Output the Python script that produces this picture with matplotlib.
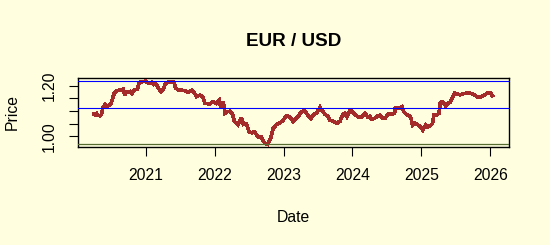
import matplotlib
matplotlib.use("Agg")
import matplotlib.pyplot as plt

plt.rcParams['font.family'] = ['Liberation Sans', 'DejaVu Sans']

# ---- data (decimal years, EUR/USD price) ----
dates = [2020.25, 2020.27, 2020.29, 2020.31, 2020.34, 2020.36, 2020.38, 2020.41, 2020.44, 2020.47,
         2020.50, 2020.53, 2020.545, 2020.58, 2020.62, 2020.675, 2020.70, 2020.72, 2020.77, 2020.80,
         2020.835, 2020.88, 2020.91, 2020.965, 2021.00, 2021.04, 2021.09, 2021.12, 2021.15, 2021.18,
         2021.22, 2021.25, 2021.28, 2021.32, 2021.37, 2021.415, 2021.435, 2021.47, 2021.52, 2021.57,
         2021.62, 2021.67, 2021.71, 2021.74, 2021.79, 2021.835, 2021.86, 2021.93, 2021.98, 2022.03,
         2022.07, 2022.09, 2022.12, 2022.14, 2022.15, 2022.18, 2022.22, 2022.26, 2022.29, 2022.34,
         2022.39, 2022.42, 2022.46, 2022.50, 2022.54, 2022.58, 2022.63, 2022.68, 2022.70, 2022.73,
         2022.77, 2022.80, 2022.82, 2022.85, 2022.90, 2022.95, 2022.995, 2023.04, 2023.09, 2023.14,
         2023.16, 2023.21, 2023.26, 2023.31, 2023.35, 2023.40, 2023.44, 2023.48, 2023.53, 2023.55,
         2023.60, 2023.65, 2023.67, 2023.72, 2023.77, 2023.82, 2023.86, 2023.89, 2023.92, 2023.96,
         2023.98, 2024.03, 2024.08, 2024.13, 2024.18, 2024.22, 2024.25, 2024.28, 2024.32, 2024.37,
         2024.40, 2024.44, 2024.47, 2024.52, 2024.57, 2024.61, 2024.62, 2024.685, 2024.72, 2024.745,
         2024.78, 2024.83, 2024.85, 2024.87, 2024.90, 2024.95, 2024.98, 2025.02, 2025.06, 2025.09,
         2025.14, 2025.16, 2025.18, 2025.22, 2025.255, 2025.275, 2025.31, 2025.35, 2025.385, 2025.42,
         2025.445, 2025.48, 2025.52, 2025.555, 2025.60, 2025.64, 2025.70, 2025.73, 2025.77, 2025.82,
         2025.87, 2025.92, 2025.965, 2026.00, 2026.03]
prices = [1.088, 1.084, 1.090, 1.082, 1.081, 1.086, 1.111, 1.126, 1.117, 1.122,
          1.130, 1.157, 1.170, 1.180, 1.182, 1.186, 1.163, 1.174, 1.177, 1.168,
          1.182, 1.186, 1.213, 1.216, 1.218, 1.209, 1.213, 1.204, 1.207, 1.192,
          1.176, 1.182, 1.203, 1.213, 1.216, 1.213, 1.190, 1.184, 1.182, 1.180,
          1.174, 1.182, 1.170, 1.157, 1.163, 1.153, 1.130, 1.128, 1.137, 1.130,
          1.143, 1.115, 1.137, 1.120, 1.091, 1.097, 1.099, 1.087, 1.058, 1.045,
          1.074, 1.047, 1.050, 1.018, 1.014, 1.018, 0.998, 0.998, 0.985, 0.972,
          0.968, 0.985, 0.998, 1.032, 1.047, 1.053, 1.064, 1.081, 1.077, 1.058,
          1.065, 1.077, 1.097, 1.101, 1.084, 1.071, 1.087, 1.091, 1.115, 1.105,
          1.087, 1.077, 1.064, 1.060, 1.051, 1.060, 1.087, 1.091, 1.077, 1.100,
          1.104, 1.087, 1.077, 1.077, 1.091, 1.077, 1.079, 1.067, 1.071, 1.081,
          1.084, 1.071, 1.071, 1.087, 1.087, 1.091, 1.111, 1.111, 1.117, 1.097,
          1.087, 1.081, 1.071, 1.045, 1.053, 1.045, 1.040, 1.025, 1.045, 1.036,
          1.045, 1.050, 1.084, 1.084, 1.091, 1.134, 1.137, 1.121, 1.130, 1.134,
          1.150, 1.170, 1.167, 1.164, 1.167, 1.170, 1.170, 1.168, 1.164, 1.153,
          1.156, 1.164, 1.173, 1.171, 1.160]

# reference levels: max, mean, min
level_max = 1.2174
level_mean = 1.1107
level_min = 0.968

x_ticks = [2021, 2022, 2023, 2024, 2025, 2026]
x_ticklabels = ["2021", "2022", "2023", "2024", "2025", "2026"]
y_ticks = [1.00, 1.05, 1.10, 1.15, 1.20]
y_ticklabels = ["1.00", "", "", "", "1.20"]

title = "EUR / USD"
xlabel = "Date"
ylabel = "Price"

bg = "#FFFFE0"
fs = 11.3

fig = plt.figure(figsize=(5.5, 2.45), dpi=100, facecolor=bg)
ax = fig.add_axes([78/550, 1-147/245, (509-78)/550, (147-78)/245], facecolor=bg)

ax.plot(dates, prices, color="#A52A2A", lw=1.9, solid_joinstyle='miter',
        antialiased=False, zorder=3)
ax.axhline(level_max, color="#0000FF", lw=0.8, zorder=4)
ax.axhline(level_mean, color="#0000FF", lw=0.8, zorder=4)
ax.axhline(level_min, color="#556B2F", lw=0.9, zorder=4)

ax.set_xlim(2020.02, 2026.27)
ax.set_ylim(0.958, 1.230)

ax.set_xticks(x_ticks)
ax.set_xticklabels(x_ticklabels, fontsize=fs)
ax.set_yticks(y_ticks)
ax.set_yticklabels(y_ticklabels, fontsize=fs, rotation=90, va='center')
ax.tick_params(axis='both', direction='out', length=6.2, width=0.8, color='black')
ax.tick_params(axis='x', pad=9)
ax.tick_params(axis='y', pad=9)
for s in ax.spines.values():
    s.set_linewidth(1.0)
    s.set_color('black')

fig.text(293.5/550, 1-46/245, title, ha='center', va='baseline', fontsize=fs*1.2, fontweight='bold')
fig.text(293.5/550, 1-221.7/245, xlabel, ha='center', va='baseline', fontsize=fs)
fig.text(12.5/550, 1-112.5/245, ylabel, ha='center', va='center', rotation=90, fontsize=fs)

fig.savefig("out.png", dpi=100, facecolor=bg)
